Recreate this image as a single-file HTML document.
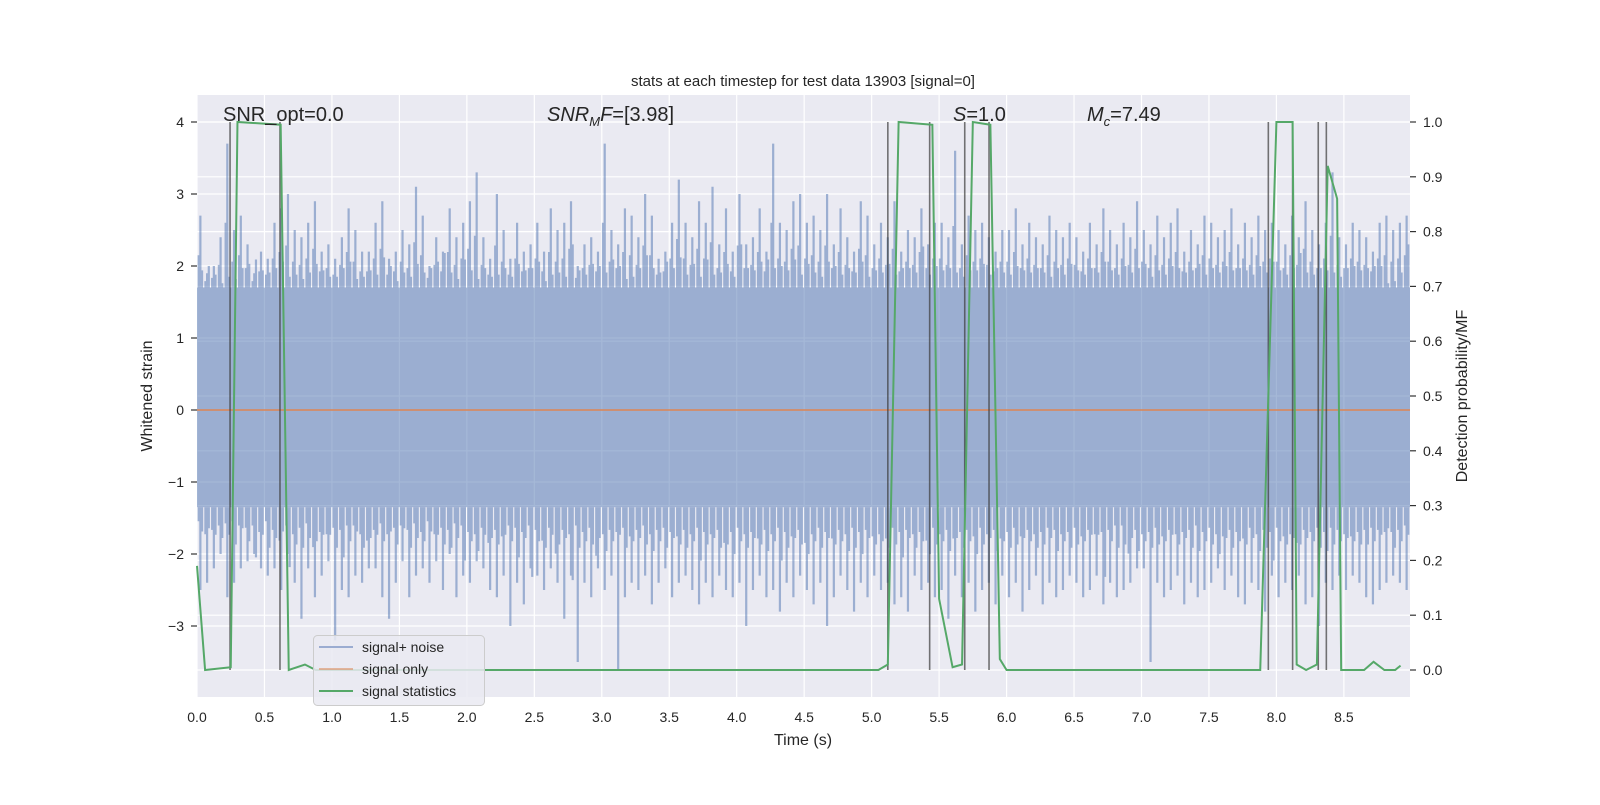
<!DOCTYPE html>
<html><head><meta charset="utf-8"><style>
body{margin:0;background:#fff;}
svg text{font-family:"Liberation Sans","DejaVu Sans",sans-serif;fill:#262626;}
</style></head><body>
<svg id="chart" width="1600" height="800" xmlns="http://www.w3.org/2000/svg">
<rect x="197" y="95" width="1213" height="602" fill="#EAEAF2"/>
<g id="grid"></g>
<g id="noise"></g>
<line id="sigonly" stroke="#DD8452" stroke-width="1.5"/>
<g id="vlines"></g>
<polyline id="stat" fill="none" stroke="#55A868" stroke-width="2"/>
<g id="ticks"></g>
<text x="803" y="86" font-size="15" text-anchor="middle">stats at each timestep for test data 13903 [signal=0]</text>
<text x="223" y="121" font-size="20">SNR_opt=0.0</text>
<text x="547" y="121" font-size="20"><tspan font-style="italic">SNR</tspan><tspan font-style="italic" font-size="13" dy="5">M</tspan><tspan font-style="italic" dy="-5">F</tspan>=[3.98]</text>
<text x="953" y="121" font-size="20"><tspan font-style="italic">S</tspan>=1.0</text>
<text x="1087" y="121" font-size="20"><tspan font-style="italic">M</tspan><tspan font-style="italic" font-size="13" dy="5">c</tspan><tspan dy="-5">=7.49</tspan></text>
<text x="803" y="745" font-size="16" text-anchor="middle">Time (s)</text>
<text transform="translate(152,396) rotate(-90)" font-size="16" text-anchor="middle">Whitened strain</text>
<text transform="translate(1467,396) rotate(-90)" font-size="16" text-anchor="middle">Detection probability/MF</text>
<g>
<rect x="313.5" y="635.5" width="171" height="70" rx="4" fill="#EAEAF2" fill-opacity="0.85" stroke="#cccccc"/>
<line x1="319" y1="647" x2="353" y2="647" stroke="rgb(155,172,209)" stroke-width="2"/>
<text x="362" y="652" font-size="14">signal+ noise</text>
<line x1="319" y1="669" x2="353" y2="669" stroke="#DD8452" stroke-width="1.5" opacity="0.7"/>
<text x="362" y="674" font-size="14">signal only</text>
<line x1="319" y1="691" x2="353" y2="691" stroke="#55A868" stroke-width="2"/>
<text x="362" y="696" font-size="14">signal statistics</text>
</g>
</svg>
<script>
const xTicks=[0,0.5,1,1.5,2,2.5,3,3.5,4,4.5,5,5.5,6,6.5,7,7.5,8,8.5];
const yTicks=[-3,-2,-1,0,1,2,3,4];
const rTicks=[0,0.1,0.2,0.3,0.4,0.5,0.6,0.7,0.8,0.9,1.0];
const noiseUpper=[2.7,1.9,2.0,2.4,3.7,2.5,2.7,2.3,1.9,2.2,2.1,2.6,2.8,3.0,2.5,2.4,2.6,2.9,2.2,2.3,2.1,2.4,2.8,2.5,2.2,2.2,2.6,2.9,2.1,2.2,2.5,2.3,3.1,2.7,2.0,2.4,2.2,2.8,2.4,2.6,2.9,3.3,2.4,2.1,3.0,2.5,2.1,2.6,2.2,2.3,2.6,2.2,2.8,2.5,2.6,2.9,2.0,2.3,2.4,2.2,3.7,2.5,2.3,2.8,2.7,2.4,3.0,2.7,2.1,2.2,2.6,3.2,2.6,2.4,2.9,2.6,3.1,2.3,2.8,2.2,3.0,2.3,2.4,2.8,2.2,3.7,2.6,2.5,2.9,3.0,2.6,2.7,2.5,3.0,2.3,2.8,2.4,2.2,2.9,2.7,2.3,2.6,2.4,2.9,2.2,2.5,2.4,2.8,2.3,2.6,2.6,2.4,3.6,2.3,2.7,2.5,2.6,2.4,2.2,2.5,2.5,2.8,2.3,2.6,2.4,2.3,2.7,2.5,2.4,2.6,2.4,2.2,2.6,2.3,2.8,2.5,2.3,2.6,2.4,2.9,2.5,2.3,2.7,2.4,2.6,2.8,2.2,2.5,2.3,2.7,2.6,2.4,2.5,2.8,2.3,2.6,2.4,2.7,2.5,2.6,2.5,2.3,2.7,2.4,2.9,2.5,2.3,2.6,3.3,2.4,2.3,2.6,2.5,2.4,2.2,2.6,2.7,2.5,2.6,2.7];
const noiseLower=[-2.5,-2.4,-2.2,-2.0,-2.6,-2.4,-2.2,-2.1,-2.0,-2.2,-2.3,-2.2,-2.5,-2.0,-2.4,-2.9,-2.2,-2.6,-2.3,-2.1,-3.2,-2.5,-2.6,-2.3,-2.4,-2.2,-2.2,-2.6,-2.9,-2.4,-2.1,-2.6,-2.3,-2.2,-2.4,-2.1,-2.5,-2.0,-2.6,-2.3,-2.4,-2.1,-2.2,-2.5,-2.6,-2.3,-3.0,-2.4,-2.7,-2.2,-2.3,-2.5,-2.2,-2.4,-2.9,-2.3,-3.5,-2.4,-2.6,-2.2,-2.5,-2.3,-3.6,-2.6,-2.4,-2.5,-2.3,-2.7,-2.4,-2.2,-2.6,-2.4,-2.3,-2.5,-2.7,-2.4,-2.6,-2.3,-2.5,-2.6,-2.4,-3.0,-2.5,-2.3,-2.6,-2.5,-2.8,-2.4,-2.6,-2.3,-2.5,-2.7,-2.4,-3.0,-2.6,-2.3,-2.5,-2.8,-2.4,-2.6,-2.3,-2.5,-2.4,-2.7,-2.6,-2.8,-2.3,-2.5,-2.4,-2.6,-2.5,-2.9,-2.3,-2.6,-2.4,-2.8,-2.5,-2.4,-2.7,-2.3,-2.6,-2.4,-2.8,-2.5,-2.3,-2.7,-2.4,-2.6,-2.5,-2.3,-2.4,-2.6,-2.5,-2.3,-2.7,-2.4,-2.6,-2.5,-2.4,-2.2,-2.2,-3.5,-2.4,-2.6,-2.5,-2.3,-2.7,-2.4,-2.6,-2.5,-2.4,-2.2,-2.5,-2.3,-2.6,-2.7,-2.4,-2.5,-2.8,-2.3,-2.6,-2.4,-2.5,-2.3,-2.7,-2.6,-3.0,-2.4,-2.5,-2.3,-2.5,-2.3,-2.4,-2.6,-2.7,-2.5,-2.4,-2.3,-2.4,-2.5];
const noiseBand=[-1.35,1.7];
const statT=[0,0.06,0.25,0.3,0.62,0.68,0.8,0.88,5.05,5.12,5.2,5.45,5.5,5.6,5.67,5.75,5.88,5.95,6.0,7.88,8.0,8.12,8.15,8.22,8.3,8.38,8.45,8.48,8.65,8.72,8.8,8.88,8.92];
const statV=[0.19,0.0,0.005,1.0,0.995,0.0,0.01,0.0,0.0,0.01,1.0,0.995,0.13,0.005,0.01,1.0,0.995,0.02,0.0,0.0,1.0,1.0,0.01,0.0,0.01,0.92,0.86,0.0,0.0,0.015,0.0,0.0,0.008];
const markerT=[0.245,0.615,5.12,5.43,5.69,5.87,7.94,8.12,8.31,8.37];
const NS="http://www.w3.org/2000/svg";
const X0=197,X1=1410,TMAX=8.99;
const xs=t=>X0+t*(X1-X0)/TMAX;
const yl=v=>410-72*v;
const yr=v=>670-548*v;
function mk(tag,attrs,parent){const e=document.createElementNS(NS,tag);for(const k in attrs)e.setAttribute(k,attrs[k]);parent.appendChild(e);return e;}
const grid=document.getElementById('grid'),ticks=document.getElementById('ticks');
xTicks.forEach(t=>{
 const g=mk('line',{x1:xs(t),x2:xs(t),y1:95,y2:697,stroke:'#fff','stroke-width':1.2},grid);
 
 
 const tx=mk('text',{x:xs(t),y:722,'font-size':14,'text-anchor':'middle'},ticks);
 tx.textContent=t.toFixed(1);
 
 
});
yTicks.forEach(v=>{
 const g=mk('line',{x1:X0,x2:X1,y1:yl(v),y2:yl(v),stroke:'#fff','stroke-width':1.2},grid);
 
 
 mk('line',{x1:191,x2:197,y1:yl(v),y2:yl(v),stroke:'#333','stroke-width':1.2},ticks);
 const tx=mk('text',{x:184,y:yl(v)+5,'font-size':14,'text-anchor':'end'},ticks);
 tx.textContent=v<0?'\u2212'+(-v):String(v);
 
 
});
rTicks.forEach(v=>{
 const g=mk('line',{x1:X0,x2:X1,y1:yr(v),y2:yr(v),stroke:'#fff','stroke-width':1.2},grid);
 
 
 mk('line',{x1:1410,x2:1416,y1:yr(v),y2:yr(v),stroke:'#333','stroke-width':1.2},ticks);
 const tx=mk('text',{x:1423,y:yr(v)+5,'font-size':14},ticks);
 tx.textContent=v.toFixed(1);
 
 
});
const noise=document.getElementById('noise');
const band=mk('rect',{x:X0,width:X1-X0,y:yl(noiseBand[1]),height:yl(noiseBand[0])-yl(noiseBand[1]),fill:'rgba(76,114,176,0.5)'},noise);


const N=noiseUpper.length;
let d='';
for(let i=0;i<N;i++){const t=(i+0.5)*TMAX/N;const x=xs(t);d+=`M${x} ${yl(noiseUpper[i])}V${yl(noiseBand[1])}M${x} ${yl(noiseBand[0])}V${yl(noiseLower[i])}`;
 const t2=(i+0.25)*TMAX/N, t3=(i+0.75)*TMAX/N;
 d+=`M${xs(t2)} ${yl(noiseBand[1]+(noiseUpper[i]-noiseBand[1])*0.45)}V${yl(noiseBand[1])}M${xs(t3)} ${yl(noiseBand[0]+(noiseLower[(i+7)%N]-noiseBand[0])*0.45)}V${yl(noiseBand[0])}`;
 d+=`M${xs(t3)} ${yl(noiseBand[1]+(noiseUpper[(i+5)%N]-noiseBand[1])*0.3)}V${yl(noiseBand[1])}M${xs(t2)} ${yl(noiseBand[0]+(noiseLower[(i+3)%N]-noiseBand[0])*0.3)}V${yl(noiseBand[0])}`;}
const np=mk('path',{d:d,stroke:'rgba(76,114,176,0.5)','stroke-width':2.2,fill:'none'},noise);


const so=document.getElementById('sigonly');
so.setAttribute('x1',X0);so.setAttribute('x2',X1);so.setAttribute('y1',yl(0));so.setAttribute('y2',yl(0));
const vl=document.getElementById('vlines');
markerT.forEach(t=>{
 const l=mk('line',{x1:xs(t),x2:xs(t),y1:yr(1),y2:yr(0),stroke:'rgba(60,60,60,0.7)','stroke-width':1.6},vl);
 
 
});
document.getElementById('stat').setAttribute('points',statT.map((t,i)=>xs(t)+','+yr(statV[i])).join(' '));
</script>
</body></html>
